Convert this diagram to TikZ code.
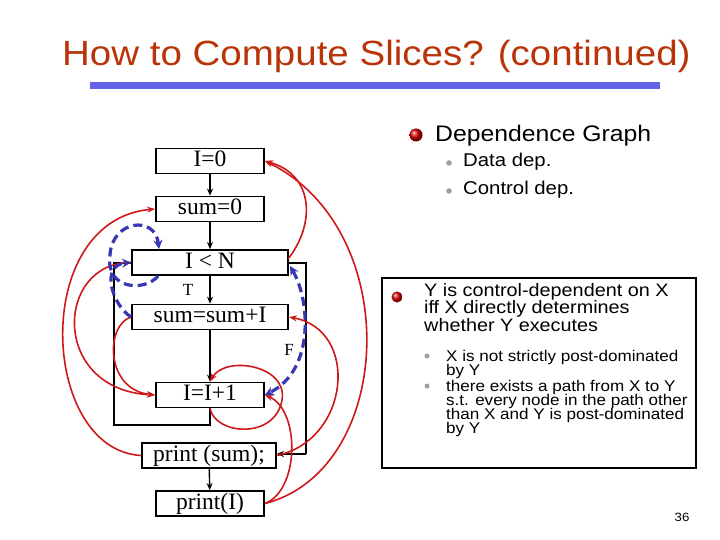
\documentclass[tikz,border=0pt]{standalone}
\usepackage{fontspec}
\setmainfont{Liberation Sans}
\newfontfamily\comic[FakeStretch=1.1]{Liberation Sans}
\newfontfamily\tnr{Liberation Serif}
\usetikzlibrary{arrows.meta}
\definecolor{titlered}{RGB}{185,52,8}
\definecolor{barblue}{RGB}{100,100,235}
\definecolor{datared}{RGB}{205,25,25}
\definecolor{ctrlblue}{RGB}{55,55,180}
\begin{document}
\begin{tikzpicture}[x=1pt,y=-1pt,
  box/.style={draw=black, line width=1.8pt, inner xsep=2pt, inner ysep=2pt,
    minimum height=25pt, text height=16pt, text depth=5pt,
    font=\tnr\fontsize{23.5}{23.5}\selectfont},
  flow/.style={draw=black, line width=1.4pt, -{Stealth[length=7pt,width=6pt]}},
  plainflow/.style={draw=black, line width=1.6pt},
  datadep/.style={draw=datared, line width=1.6pt, -{Stealth[length=8pt,width=6pt]}},
  ctrldep/.style={draw=ctrlblue, line width=3.2pt, dash pattern=on 9pt off 5pt},
  lbl/.style={font=\tnr\fontsize{17}{17}\selectfont, inner sep=0},
  txt/.style={anchor=base west, inner sep=0},
  big/.style={font=\comic\fontsize{22.5}{22.5}\selectfont},
  mid/.style={font=\comic\fontsize{18.5}{18.5}\selectfont},
  main/.style={font=\comic\fontsize{18}{18}\selectfont},
  small/.style={font=\comic\fontsize{15.5}{15.5}\selectfont},
  redball/.style={ball color=red!85!black},
  graydot/.style={fill=gray!75}
]
\useasboundingbox[fill=white] (0,0) rectangle (720,540);

% title
\node[txt, font=\comic\fontsize{35}{35}\selectfont, text=titlered] (title) at (62,66) {How to Compute Slices? (continued)};
\fill[barblue] (90,82) rectangle (660,89);

% flowchart boxes
\node[box, minimum width=108pt] (i0) at (210,161) {I=0};
\node[box, minimum width=108pt] (s0) at (210,209) {sum=0};
\node[box, minimum width=156pt] (cond) at (210,262.5) {I < N};
\node[box, minimum width=156pt] (ss) at (210,317) {sum=sum+I};
\node[box, minimum width=108pt] (inc) at (210,395) {I=I+1};
\node[box, minimum width=134pt] (ps) at (209,455.5) {print (sum);};
\node[box, minimum width=108pt] (pi) at (210,503.5) {print(I)};

% control flow
\draw[flow] (i0) -- (s0);
\draw[flow] (s0) -- (cond);
\draw[flow] (cond) -- (ss);
\draw[flow] (ss) -- (inc);
\draw[flow] (ps) -- (pi);
\node[lbl] (tl) at (188,290) {T};
\node[lbl] (fl) at (289,350) {F};
\coordinate (lb1) at (210,425);
\coordinate (lb2) at (114,425);
\coordinate (lb3) at (114,263);
\draw[plainflow] (inc.south) -- (lb1) -- (lb2) -- (lb3) -- (cond.west |- lb3);
\coordinate (ex1) at (306,263);
\coordinate (ex2) at (306,454);
\draw[plainflow] (cond.east |- ex1) -- (ex1) -- (ex2);
\draw[flow] (ex2) -- (ps.east |- ex2);

% data dependences
\draw[datadep] (288,259) .. controls (315,225) and (315,175) .. (i0.east);
\draw[datadep] (pi.east) .. controls (395,470) and (405,230) .. (i0.east);
\draw[datadep] (ps.east) .. controls (350,440) and (360,330) .. (ss.east);
\draw[datadep] (inc.south) .. controls (215,435) and (275,440) .. (282,400) .. controls (288,365) and (225,355) .. (inc.north);
\draw[datadep] (pi.east) .. controls (300,490) and (300,410) .. (inc.east);
\draw[datadep] (ps.west) .. controls (40,450) and (30,220) .. (s0.west);
\draw[datadep] (cond.west) .. controls (55,262) and (50,390) .. (inc.west);
\draw[datadep] (ss.west) .. controls (105,325) and (105,390) .. (inc.west);

% control dependences
\draw[ctrldep, -{Stealth[length=9pt,width=9pt]}] (158,276) .. controls (145,292) and (105,290) .. (110,255) .. controls (112,220) and (155,215) .. (159,249);
\draw[ctrldep, -{Stealth[length=9pt,width=9pt]}] (ss.west) .. controls (112,305) and (100,265) .. (cond.west);
\draw[ctrldep, {Stealth[length=9pt,width=9pt]}-{Stealth[length=9pt,width=9pt]}] (290,266) .. controls (310,300) and (315,370) .. (inc.east);

% right panel
\shade[redball] (416,135) circle (6.5pt);
\node[txt, big] (dg) at (435,142) {Dependence Graph};
\fill[graydot] (449,163) circle (2.8pt);
\node[txt, mid] (dd) at (463,167) {Data dep.};
\fill[graydot] (449,191) circle (2.8pt);
\node[txt, mid] (cd) at (463,195) {Control dep.};

\draw[line width=1.8pt] (382,278) rectangle (696,468);
\shade[redball] (397,297) circle (5.5pt);
\node[txt, main] (m1) at (424,296) {Y is control-dependent on X};
\node[txt, main] (m2) at (424,313.5) {iff X directly determines};
\node[txt, main] (m3) at (424,331) {whether Y executes};
\fill[graydot] (427,356) circle (2.5pt);
\node[txt, small] (s1) at (446,361) {X is not strictly post-dominated};
\node[txt, small] (s2) at (446,375) {by Y};
\fill[graydot] (427,386) circle (2.5pt);
\node[txt, small] (s3) at (446,391) {there exists a path from X to Y};
\node[txt, small] (s4) at (446,405) {s.t. every node in the path other};
\node[txt, small] (s5) at (446,419) {than X and Y is post-dominated};
\node[txt, small] (s6) at (446,433) {by Y};

\node[anchor=base, inner sep=0, font=\comic\fontsize{12}{12}\selectfont] (pg) at (682,521) {36};
\end{tikzpicture}
\end{document}
